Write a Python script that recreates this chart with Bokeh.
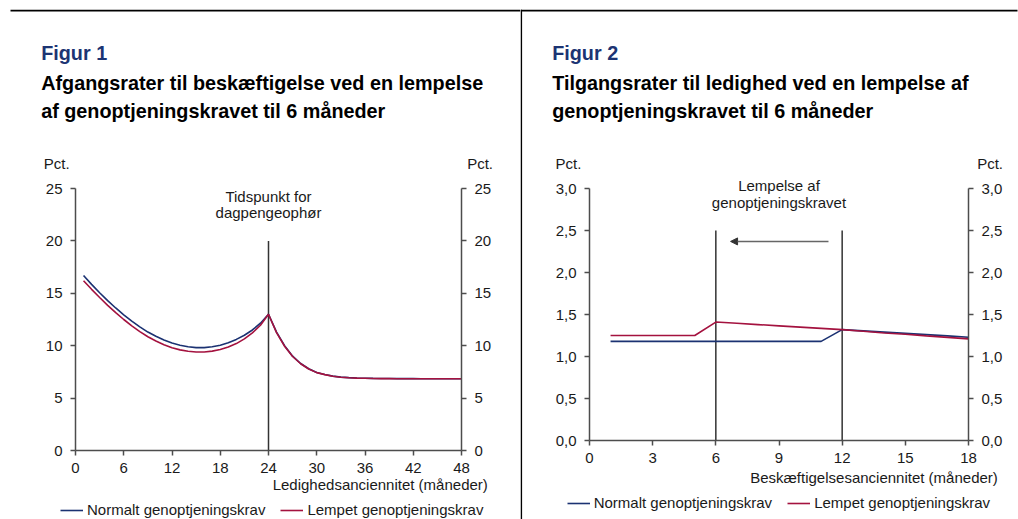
from bokeh.plotting import figure
from bokeh.models import (Range1d, LinearAxis, FixedTicker, CustomJSTickFormatter, Label,
                          Legend, LegendItem, Arrow, NormalHead, BoxAnnotation)
from bokeh.layouts import row
from bokeh.embed import file_html
from bokeh.resources import INLINE

FONT = "Liberation Sans"
BLUE = "#1B3272"
RED = "#A4123F"
NAVY = "#1C3473"
AXIS = "#4D4D4D"
TXT = "#1a1a1a"

# ---------------- data: Figur 1 ----------------
f1_months = [1, 2, 3, 4, 5, 6, 7, 8, 9, 10, 11, 12, 13, 14, 15, 16, 17, 18, 19, 20, 21, 22, 23, 24,
             25, 26, 27, 28, 29, 30, 31, 32, 33, 34, 35, 36, 37, 38, 39, 40, 41, 42, 43, 44, 45, 46, 47, 48]
f1_normal = [16.70, 15.85, 15.05, 14.30, 13.60, 12.95, 12.35, 11.80, 11.30, 10.90, 10.55, 10.25,
             10.05, 9.90, 9.82, 9.82, 9.90, 10.05, 10.28, 10.60, 11.00, 11.50, 12.15, 13.00,
             11.30, 10.00, 9.00, 8.30, 7.80, 7.45, 7.25, 7.10, 7.00, 6.95, 6.92, 6.90,
             6.88, 6.87, 6.87, 6.86, 6.86, 6.86, 6.85, 6.85, 6.85, 6.85, 6.85, 6.85]
f1_lempet = [16.20, 15.38, 14.60, 13.85, 13.15, 12.50, 11.90, 11.35, 10.85, 10.45, 10.10, 9.80,
             9.60, 9.47, 9.40, 9.40, 9.48, 9.63, 9.87, 10.20, 10.65, 11.22, 11.95, 13.00,
             11.25, 9.95, 8.97, 8.28, 7.78, 7.43, 7.24, 7.09, 6.99, 6.94, 6.91, 6.89,
             6.87, 6.86, 6.86, 6.85, 6.85, 6.85, 6.84, 6.84, 6.84, 6.84, 6.84, 6.84]
f1_xticks = [0, 6, 12, 18, 24, 30, 36, 42, 48]
f1_yticks = [0, 5, 10, 15, 20, 25]
f1_xlim = (0, 48)
f1_ylim = (0, 25)
f1_vline_x = [24]
f1_vline_y0 = [0]
f1_vline_y1 = [20]

# ---------------- data: Figur 2 ----------------
f2_months = [1, 2, 3, 4, 5, 6, 7, 8, 9, 10, 11, 12, 13, 14, 15, 16, 17, 18]
f2_normal = [1.18, 1.18, 1.18, 1.18, 1.18, 1.18, 1.18, 1.18, 1.18, 1.18, 1.18, 1.32,
             1.305, 1.29, 1.275, 1.26, 1.245, 1.23]
f2_lempet = [1.25, 1.25, 1.25, 1.25, 1.25, 1.41, 1.395, 1.38, 1.365, 1.35, 1.335, 1.32,
             1.30, 1.28, 1.265, 1.245, 1.228, 1.21]
f2_xticks = [0, 3, 6, 9, 12, 15, 18]
f2_yticks = [0, 0.5, 1.0, 1.5, 2.0, 2.5, 3.0]
f2_xlim = (0, 18)
f2_ylim = (0, 3)
f2_vline_x = [6, 12]
f2_vline_y0 = [0, 0]
f2_vline_y1 = [2.5, 2.5]
f2_arrow = dict(x_start=11.35, x_end=6.7, y=2.37)

series_labels = ["Normalt genoptjeningskrav", "Lempet genoptjeningskrav"]

H = 519
DY = -5  # baseline correction for rendered labels


def make_fig(width, xlim, ylim, frame_px, xticks, yticks, fmt=None):
    """frame_px = (left, right, top, bottom) pixel edges of the plotting box inside the canvas."""
    l, r, t, b = frame_px
    kx = (xlim[1] - xlim[0]) / (r - l)
    ky = (ylim[1] - ylim[0]) / (b - t)
    xr = Range1d(xlim[0] - l * kx, xlim[1] + (width - r) * kx)
    yr = Range1d(ylim[0] - (H - b) * ky, ylim[1] + t * ky)
    p = figure(width=width, height=H, x_range=xr, y_range=yr, title=None,
               x_axis_type=None, y_axis_type=None,
               output_backend="svg", toolbar_location=None, min_border=0)
    p.outline_line_color = None
    p.background_fill_color = "white"
    p.border_fill_color = "white"
    ax_b = LinearAxis(fixed_location=ylim[0], bounds=xlim, ticker=FixedTicker(ticks=xticks))
    ax_l = LinearAxis(fixed_location=xlim[0], bounds=ylim, ticker=FixedTicker(ticks=yticks))
    ax_r = LinearAxis(fixed_location=xlim[1], bounds=ylim, ticker=FixedTicker(ticks=yticks))
    p.add_layout(ax_b, "below")
    p.add_layout(ax_l, "left")
    p.add_layout(ax_r, "right")
    for ax in (ax_b, ax_l, ax_r):
        ax.axis_line_color = AXIS
        ax.axis_line_width = 1.5
        ax.major_tick_line_color = AXIS
        ax.major_tick_line_width = 1.5
        ax.major_tick_out = 5
        ax.major_tick_in = 0
        ax.minor_tick_line_color = None
        ax.major_label_text_font = FONT
        ax.major_label_text_font_size = "15px"
        ax.major_label_text_color = TXT
    ax_b.major_label_standoff = 7
    ax_l.major_label_standoff = 8
    ax_r.major_label_standoff = 8
    if fmt is not None:
        ax_l.formatter = fmt
        ax_r.formatter = fmt
    return p


def lab(p, text, x, y, size="15px", bold=False, color=TXT, align="left", xunits="canvas"):
    p.add_layout(Label(x=x, y=y + DY, x_units=xunits, y_units="canvas", text=text,
                       text_font=FONT, text_font_size=size,
                       text_font_style="bold" if bold else "normal",
                       text_color=color, text_align=align, text_baseline="alphabetic"))


def deco(p, boxes):
    for (l, r, t, b) in boxes:
        p.add_layout(BoxAnnotation(left=l, right=r, top=t, bottom=b,
                                   left_units="canvas", right_units="canvas",
                                   top_units="canvas", bottom_units="canvas",
                                   fill_color="black", fill_alpha=1, line_alpha=0))


def legend(p, r1, r2, loc):
    lg = Legend(items=[LegendItem(label=series_labels[0], renderers=[r1]),
                       LegendItem(label=series_labels[1], renderers=[r2])],
                orientation="horizontal", location=loc, glyph_width=23, glyph_height=16,
                label_standoff=4, spacing=15, padding=0, margin=0, label_height=16,
                border_line_color=None, background_fill_alpha=0,
                label_text_font=FONT, label_text_font_size="15px", label_text_color=TXT)
    p.add_layout(lg)


TSIZE = "19.8px"

# ---------------- Figur 1 ----------------
p1 = make_fig(520, f1_xlim, f1_ylim, (75, 461, 188, 450), f1_xticks, f1_yticks)
p1.segment(x0=f1_vline_x, y0=f1_vline_y0, x1=f1_vline_x, y1=f1_vline_y1, line_color="#333333", line_width=1.5)
a1 = p1.line(f1_months, f1_normal, line_color=BLUE, line_width=1.6)
b1 = p1.line(f1_months, f1_lempet, line_color=RED, line_width=1.6)
legend(p1, a1, b1, (60, 1))
deco(p1, [(10, 520, 9.3, 11)])
lab(p1, "Figur 1", 40.7, 57.5, size=TSIZE, bold=True, color=NAVY)
lab(p1, "Afgangsrater til beskæftigelse ved en lempelse", 40.7, 87.5, size=TSIZE, bold=True, color="black")
lab(p1, "af genoptjeningskravet til 6 måneder", 40.7, 115, size=TSIZE, bold=True, color="black")
lab(p1, "Pct.", 43.3, 168)
lab(p1, "Pct.", 466.7, 168)
lab(p1, "Ledighedsanciennitet (måneder)", 487.3, 489, align="right")
lab(p1, "Tidspunkt for", 24, 200.7, align="center", xunits="data")
lab(p1, "dagpengeophør", 24, 217.3, align="center", xunits="data")

# ---------------- Figur 2 ----------------
fmt2 = CustomJSTickFormatter(code="return tick.toFixed(1).replace('.', ',');")
p2 = make_fig(498, f2_xlim, f2_ylim, (69, 448, 188, 440), f2_xticks, f2_yticks, fmt2)
p2.segment(x0=f2_vline_x, y0=f2_vline_y0, x1=f2_vline_x, y1=f2_vline_y1, line_color="#333333", line_width=1.5)
p2.add_layout(Arrow(end=NormalHead(size=7, fill_color="#333333", line_color="#333333"),
                    x_start=f2_arrow["x_start"], y_start=f2_arrow["y"],
                    x_end=f2_arrow["x_end"], y_end=f2_arrow["y"],
                    line_color="#666666", line_width=1.5))
a2 = p2.line(f2_months, f2_normal, line_color=BLUE, line_width=1.6)
b2 = p2.line(f2_months, f2_lempet, line_color=RED, line_width=1.6)
legend(p2, a2, b2, (46.7, 7.7))
deco(p2, [(0, 497, 9.3, 11), (0, 1.6, 9.3, 519)])
lab(p2, "Figur 2", 31.7, 57.5, size=TSIZE, bold=True, color=NAVY)
lab(p2, "Tilgangsrater til ledighed ved en lempelse af", 31.7, 87.5, size=TSIZE, bold=True, color="black")
lab(p2, "genoptjeningskravet til 6 måneder", 31.7, 115, size=TSIZE, bold=True, color="black")
lab(p2, "Pct.", 35, 168)
lab(p2, "Pct.", 456.7, 168)
lab(p2, "Beskæftigelsesanciennitet (måneder)", 477.3, 482, align="right")
lab(p2, "Lempelse af", 9, 190, align="center", xunits="data")
lab(p2, "genoptjeningskravet", 9, 206.7, align="center", xunits="data")

layout = row(p1, p2, spacing=0)
open("out.html", "w").write(file_html(layout, INLINE))
